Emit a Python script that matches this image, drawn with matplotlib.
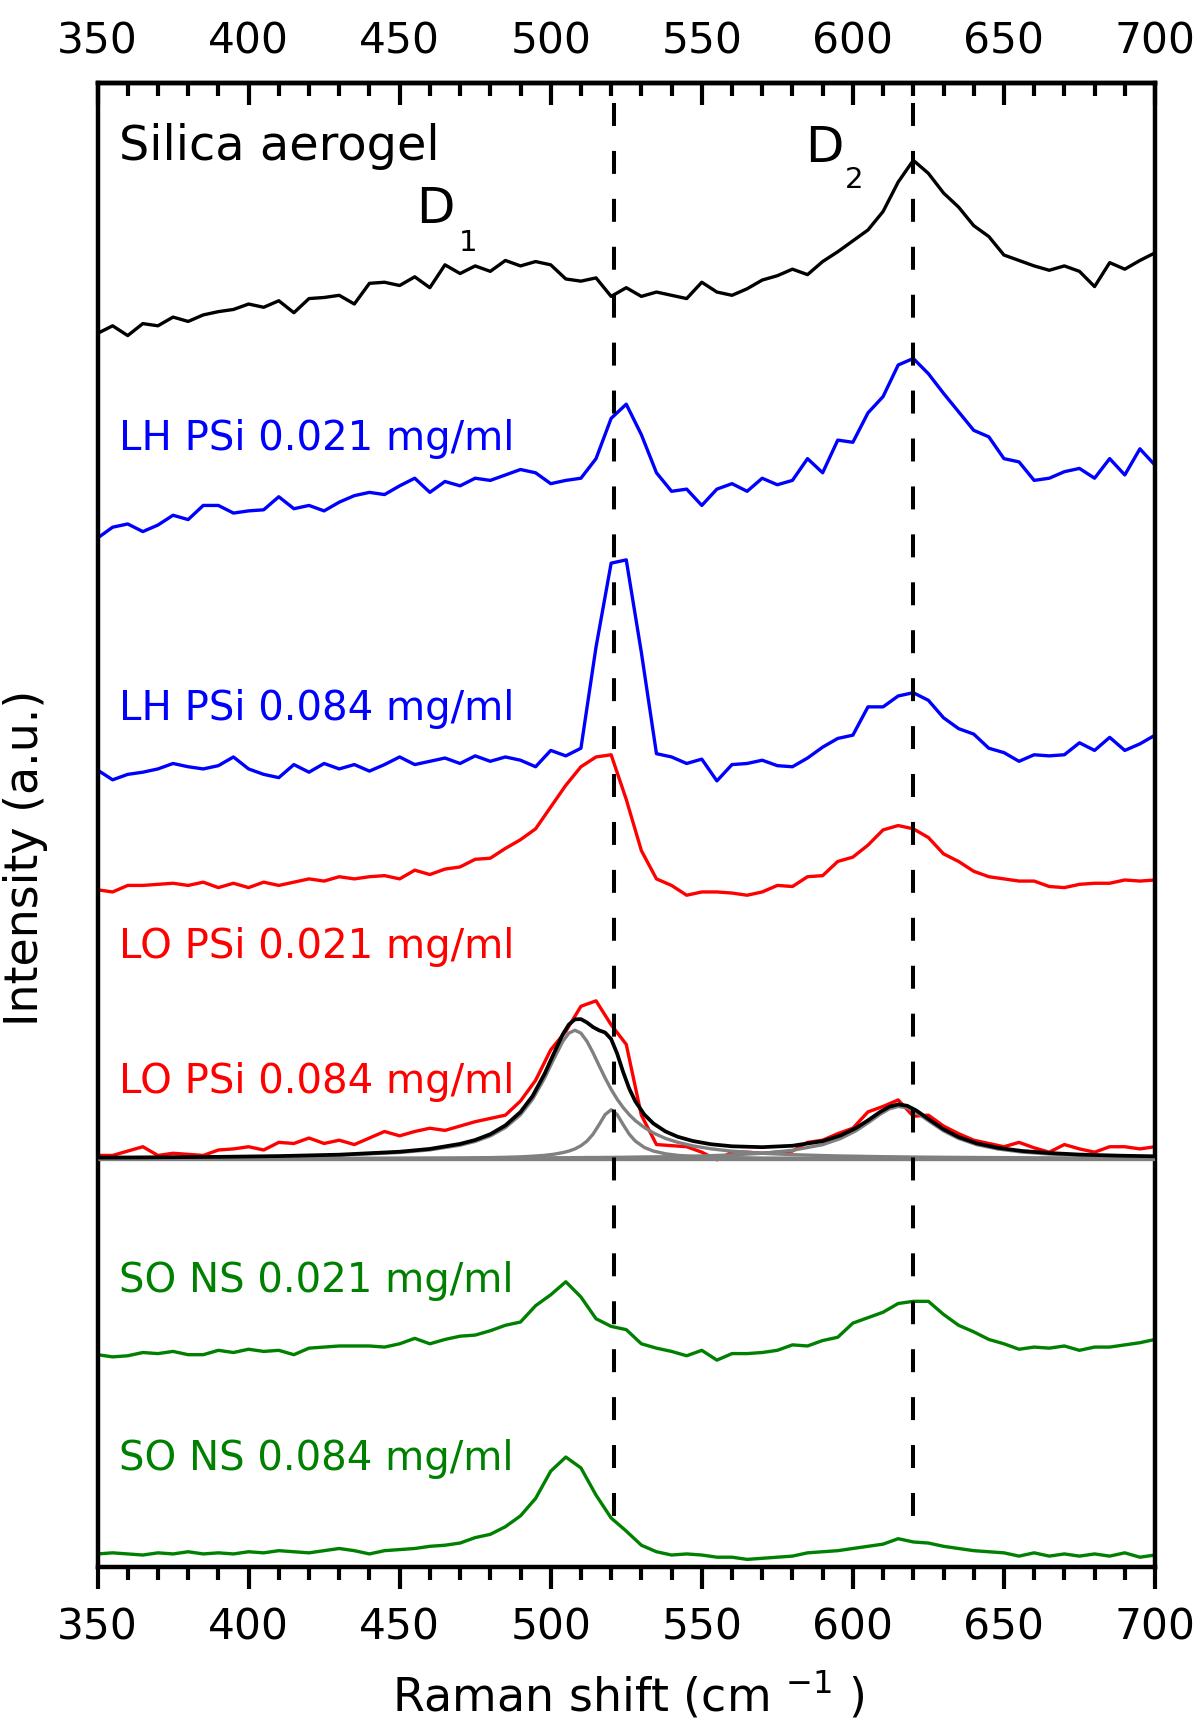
import numpy as np
import matplotlib
matplotlib.use("Agg")
import matplotlib.pyplot as plt
from matplotlib.ticker import MultipleLocator

plt.rcParams['font.family'] = ['DejaVu Sans']
plt.rcParams['mathtext.fontset'] = 'dejavusans'

# ---------------- data ----------------
wavenumber = np.arange(350, 705, 5)   # cm^-1, 350..700

silica = [1133, 1140, 1131, 1142, 1140, 1148, 1144, 1150, 1153, 1155,
          1160, 1157, 1163, 1152, 1165, 1166, 1168, 1160, 1179, 1180,
          1177, 1185, 1175, 1196, 1188, 1195, 1190, 1200, 1195, 1199,
          1196, 1183, 1181, 1184, 1167, 1175, 1167, 1171, 1168, 1165,
          1180, 1171, 1168, 1174, 1182, 1186, 1192, 1187, 1199, 1208,
          1218, 1228, 1245, 1272, 1292, 1280, 1262, 1249, 1232, 1222,
          1205, 1200, 1195, 1191, 1195, 1190, 1176, 1198, 1192, 1200,
          1207]

lh_021 = [945, 955, 958, 951, 957, 966, 962, 975, 975, 968,
          970, 971, 983, 972, 975, 970, 978, 984, 987, 985,
          993, 1000, 987, 997, 993, 1000, 998, 1003, 1008, 1005,
          995, 998, 1000, 1018, 1055, 1068, 1040, 1005, 988, 990,
          975, 990, 995, 988, 1000, 994, 998, 1018, 1005, 1035,
          1033, 1060, 1075, 1104, 1110, 1096, 1078, 1061, 1044, 1038,
          1018, 1015, 998, 1000, 1006, 1009, 1000, 1018, 1003, 1027,
          1012]

lh_084 = [732, 723, 728, 730, 733, 738, 735, 733, 736, 744,
          733, 728, 725, 737, 730, 738, 733, 737, 731, 737,
          744, 737, 740, 743, 738, 745, 740, 744, 741, 735,
          750, 745, 752, 845, 922, 925, 840, 747, 744, 738,
          742, 722, 737, 738, 741, 736, 735, 743, 753, 761,
          764, 790, 790, 800, 803, 796, 780, 770, 765, 752,
          748, 740, 746, 745, 746, 757, 750, 762, 750, 756,
          764]

lo_021 = [622, 620, 626, 626, 627, 628, 626, 629, 624, 628,
          624, 629, 626, 629, 632, 630, 634, 632, 634, 635,
          632, 640, 636, 641, 643, 650, 651, 660, 668, 678,
          698, 718, 735, 744, 746, 705, 658, 632, 626, 617,
          620, 620, 619, 617, 620, 626, 625, 634, 635, 648,
          652, 663, 677, 681, 678, 670, 655, 648, 639, 634,
          632, 630, 630, 625, 624, 627, 628, 628, 631, 630,
          631]

lo_084 = [378, 378, 382, 386, 378, 380, 379, 378, 383, 384,
          386, 383, 390, 389, 394, 389, 392, 388, 394, 400,
          396, 400, 403, 401, 405, 409, 412, 415, 428, 447,
          475, 492, 515, 520, 498, 480, 415, 388, 387, 386,
          381, 374, 381, 381, 380, 381, 382, 390, 392, 398,
          403, 418, 423, 429, 414, 415, 405, 398, 392, 389,
          386, 390, 385, 381, 388, 384, 381, 386, 386, 384,
          386]

so_021 = [195, 193, 194, 197, 196, 198, 195, 195, 199, 197,
          200, 198, 199, 195, 201, 202, 203, 203, 203, 202,
          205, 210, 205, 209, 212, 213, 217, 222, 225, 240,
          250, 262, 248, 228, 221, 218, 205, 201, 198, 194,
          199, 190, 196, 196, 197, 199, 204, 203, 208, 211,
          224, 229, 234, 242, 244, 244, 232, 222, 216, 209,
          205, 200, 202, 201, 203, 199, 202, 202, 204, 206,
          209]

so_084 = [12, 13, 12, 11, 13, 12, 14, 12, 13, 12,
          14, 13, 15, 14, 13, 15, 17, 15, 12, 15,
          16, 17, 19, 20, 22, 27, 30, 37, 47, 63,
          88, 101, 91, 66, 45, 33, 20, 14, 11, 12,
          11, 9, 9, 7, 8, 9, 10, 13, 14, 15,
          17, 19, 21, 26, 23, 22, 19, 17, 15, 14,
          13, 10, 13, 10, 12, 10, 12, 10, 13, 9,
          11]

# peak-fit curves of LO PSi 0.084 mg/ml
fit_x = [350, 370, 390, 410, 430, 450, 460, 470, 475, 480,
         485, 490, 494, 498, 501, 504, 506, 508, 510, 512,
         514, 516, 518, 520, 522, 524, 526, 528, 531, 534,
         538, 542, 547, 553, 560, 570, 580, 590, 596, 601,
         605, 609, 612, 615, 618, 621, 625, 630, 635, 641,
         648, 656, 665, 675, 688, 700]
fit_total = [376.0, 376.3, 376.7, 377.4, 378.7, 381.4, 384.0, 388.6, 392.2, 397.5,
             405.6, 417.9, 432.6, 453.1, 471.4, 489.3, 498.2, 503.0, 503.2, 500.1,
             495.9, 492.9, 490.9, 484.9, 471.4, 454.4, 439.3, 427.7, 415.5, 407.3,
             400.0, 395.2, 391.3, 388.3, 386.4, 385.6, 386.9, 391.1, 396.4, 403.1,
             410.2, 417.9, 422.7, 424.9, 423.6, 419.3, 411.5, 402.1, 394.9, 389.1,
             385.0, 382.1, 380.2, 378.8, 377.8, 377.2]
fit_c1 = [375.8, 376.0, 376.4, 377.0, 378.2, 380.7, 383.1, 387.4, 390.9, 395.9,
          403.6, 415.4, 429.6, 449.2, 466.5, 482.8, 490.3, 493.0, 490.3, 482.8,
          472.3, 460.6, 449.2, 438.7, 429.6, 421.9, 415.4, 410.0, 403.6, 398.6,
          393.6, 390.1, 386.8, 384.1, 381.9, 380.0, 378.7, 377.9, 377.5, 377.3,
          377.1, 376.9, 376.8, 376.7, 376.6, 376.5, 376.4, 376.3, 376.2, 376.1,
          376.0, 375.9, 375.8, 375.7, 375.6, 375.5]
fit_c2 = [375.1, 375.1, 375.1, 375.1, 375.2, 375.3, 375.4, 375.6, 375.8, 376.0,
          376.3, 376.7, 377.3, 378.1, 379.1, 380.6, 382.0, 384.0, 386.9, 391.2,
          397.5, 406.2, 415.5, 420.0, 415.5, 406.2, 397.5, 391.2, 385.3, 382.0,
          379.5, 378.1, 377.1, 376.4, 376.0, 375.6, 375.5, 375.3, 375.3, 375.2,
          375.2, 375.2, 375.2, 375.2, 375.2, 375.2, 375.1, 375.1, 375.1, 375.1,
          375.1, 375.1, 375.1, 375.1, 375.1, 375.1]
fit_c3 = [375.2, 375.2, 375.2, 375.3, 375.3, 375.4, 375.5, 375.5, 375.6, 375.6,
          375.7, 375.7, 375.8, 375.8, 375.9, 375.9, 375.9, 376.0, 376.0, 376.1,
          376.1, 376.1, 376.2, 376.2, 376.3, 376.3, 376.4, 376.5, 376.6, 376.7,
          376.8, 377.0, 377.3, 377.8, 378.5, 380.0, 382.7, 387.9, 393.6, 400.6,
          407.9, 415.8, 420.7, 423.0, 421.8, 417.6, 409.9, 400.6, 393.6, 387.9,
          383.9, 381.1, 379.3, 378.1, 377.1, 376.6]
fit_baseline = 375.0

peak_positions = [521, 620]          # dashed reference lines (cm^-1)
xticks = [350, 400, 450, 500, 550, 600, 650, 700]

labels = ["Silica aerogel", "LH PSi 0.021 mg/ml", "LH PSi 0.084 mg/ml",
          "LO PSi 0.021 mg/ml", "LO PSi 0.084 mg/ml",
          "SO NS 0.021 mg/ml", "SO NS 0.084 mg/ml"]

# ---------------- drawing ----------------
BLUE, RED, GREEN, GRAY = '#0000FF', '#FF0000', '#008000', '#808080'

fig = plt.figure(figsize=(12, 17.27), dpi=100)
ax = fig.add_axes([97.5 / 1200, 1 - 1567 / 1727, 1057.5 / 1200, 1484 / 1727])

lw = 2.4
ax.plot(wavenumber, silica, color='black', lw=lw, zorder=2)
ax.plot(wavenumber, lh_021, color=BLUE, lw=lw, zorder=2)
ax.plot(wavenumber, lh_084, color=BLUE, lw=lw, zorder=2)
ax.plot(wavenumber, lo_021, color=RED, lw=lw, zorder=2)
ax.plot(wavenumber, lo_084, color=RED, lw=lw, zorder=2)
ax.plot(wavenumber, so_021, color=GREEN, lw=lw, zorder=2)
ax.plot(wavenumber, so_084, color=GREEN, lw=lw, zorder=2)

ax.hlines(fit_baseline, 350, 700, color=GRAY, lw=lw, zorder=3)
ax.plot(fit_x, fit_c1, color=GRAY, lw=lw, zorder=3)
ax.plot(fit_x, fit_c2, color=GRAY, lw=lw, zorder=3)
ax.plot(fit_x, fit_c3, color=GRAY, lw=lw, zorder=3)
ax.plot(fit_x, fit_total, color='black', lw=2.7, zorder=4)

trans = ax.get_xaxis_transform()
for xp in peak_positions:
    ax.plot([xp, xp], [0.9865, 0.0317], transform=trans, color='black',
            lw=2.9, linestyle=(0, (5.7, 6.2)), dash_capstyle='butt', zorder=5)

ax.set_xlim(350, 700)
ax.set_ylim(0, 1363)
ax.set_yticks([])
ax.tick_params(axis='y', left=False, labelleft=False)

ax.set_xticks(xticks)
ax.xaxis.set_minor_locator(MultipleLocator(10))
ax.tick_params(axis='x', which='major', direction='out', length=15.6, width=3,
               labelsize=30.5, pad=13)
ax.tick_params(axis='x', which='minor', direction='out', length=9.4, width=3)
for s in ax.spines.values():
    s.set_linewidth(3.2)

sec = ax.secondary_xaxis('top')
sec.set_xticks(xticks)
sec.xaxis.set_minor_locator(MultipleLocator(10))
sec.tick_params(which='major', direction='in', length=15.6, width=3,
                labelsize=30.5, pad=15)
sec.tick_params(which='minor', direction='in', length=9.4, width=3)
sec.spines['top'].set_linewidth(3.2)

# sample labels
label_colors = ['black', BLUE, BLUE, RED, RED, GREEN, GREEN]
label_y = [1292, 1026, 778, 559, 435, 253, 89]
for txt, c, yy in zip(labels, label_colors, label_y):
    fs = 34.5 if txt == "Silica aerogel" else 29
    ax.text(357.2, yy, txt, color=c, fontsize=fs, ha='left', va='baseline', zorder=6)

# D1 / D2 annotations
ax.text(455.4, 1234, "D", fontsize=36, ha='left', va='baseline')
ax.text(469.5, 1209, "1", fontsize=21, ha='left', va='baseline')
ax.text(584.2, 1290, "D", fontsize=36, ha='left', va='baseline')
ax.text(597.5, 1267, "2", fontsize=21, ha='left', va='baseline')

fig.text(628 / 1200, 1 - 1712 / 1727, r"Raman shift (cm $^{-1}$ )",
         fontsize=33, ha='center', va='baseline')
fig.text(26 / 1200, 1 - 858 / 1727, "Intensity (a.u.)", fontsize=33,
         rotation=90, ha='center', va='center')

fig.savefig("out.png", dpi=100)
